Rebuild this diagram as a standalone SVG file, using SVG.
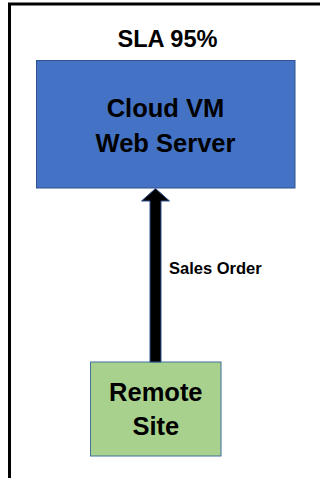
<svg xmlns="http://www.w3.org/2000/svg" width="320" height="478" viewBox="0 0 320 478">
  <style>
    .t { font-family: "Liberation Sans", Arial, sans-serif; font-weight: bold; fill: #000; }
    .big { font-size: 25.5px; text-anchor: middle; }
  </style>
  <rect x="0" y="0" width="320" height="478" fill="#fff"/>
  <g id="frame">
    <path d="M9.5 478 V4 H320" fill="none" stroke="#000" stroke-width="3"/>
  </g>
  <g id="sla-label">
    <text class="t" x="167.5" y="46.7" font-size="23.6" text-anchor="middle">SLA 95%</text>
  </g>
  <g id="cloud-vm">
    <rect x="36.5" y="60.5" width="258.5" height="127.5" fill="#4472C4" stroke="#2F528F" stroke-width="1"/>
    <text class="t big" x="165.5" y="117.3">Cloud VM</text>
    <text class="t big" x="165.5" y="151.7">Web Server</text>
  </g>
  <g id="remote-site">
    <rect x="90.5" y="362" width="130.5" height="94" fill="#A9D18E" stroke="#41719C" stroke-width="1"/>
    <text class="t big" x="155.8" y="401">Remote</text>
    <text class="t big" x="155.8" y="435">Site</text>
  </g>
  <g id="connectors">
    <path d="M150 362 V201 H141.5 L155.5 188.5 L169.5 201 H161 V362 Z" fill="#000" stroke="#2F528F" stroke-width="1"/>
    <text class="t" x="169" y="274" font-size="16.5">Sales Order</text>
  </g>
</svg>
